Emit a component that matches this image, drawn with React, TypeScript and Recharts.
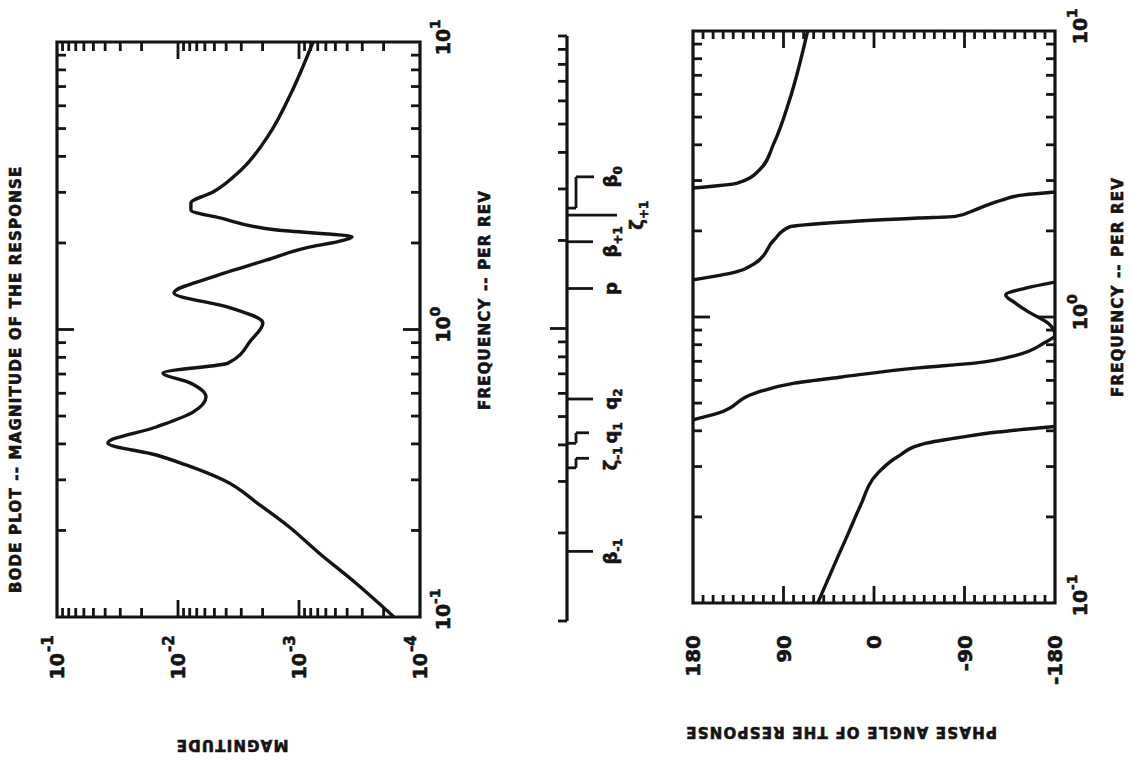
import {
  ComposedChart,
  LineChart,
  Line,
  Scatter,
  XAxis,
  YAxis,
  ReferenceArea,
  ReferenceLine,
} from "recharts";

// magnitude of the response (frequency in per rev)
const magFreq = [0.1, 0.131, 0.167, 0.206, 0.245, 0.3, 0.338, 0.366, 0.403, 0.458, 0.516, 0.582, 0.652, 0.706, 0.764, 0.918, 1.054, 1.197, 1.34, 1.524, 1.746, 1.919, 2.046, 2.099, 2.218, 2.443, 2.606, 2.754, 3.006, 3.589, 4.819, 6.653, 10];
const magValue = [1.64e-4, 3.38e-4, 6.84e-4, 1.21e-3, 2.1e-3, 4.25e-3, 8.59e-3, 1.51e-2, 3.8e-2, 1.51e-2, 7.52e-3, 5.87e-3, 7.96e-3, 1.33e-2, 3.86e-3, 2.49e-3, 1.99e-3, 3.86e-3, 1.08e-2, 5.14e-3, 1.84e-3, 8.91e-4, 4.25e-4, 3.65e-4, 1.52e-3, 4.5e-3, 7.82e-3, 7.82e-3, 5.14e-3, 3.01e-3, 1.74e-3, 1.16e-3, 7.66e-4];

// phase angle (deg), one array pair per branch between the +-180 wraps
const phaseAFreq = [0.1, 0.145, 0.177, 0.217, 0.285, 0.324, 0.362, 0.38, 0.396, 0.414];
const phaseAValue = [56, 36, 25, 14, -4, -23, -52, -87, -123, -180];
const phaseBFreq = [0.437, 0.461, 0.542, 0.587, 0.617, 0.664, 0.69, 0.736, 0.811, 0.865, 0.953, 1.04, 1.122, 1.194, 1.259, 1.324];
const phaseBValue = [180, 155, 118, 79, 32, -44, -100, -142, -169, -180, -173, -154, -140, -131, -150, -180];
const phaseCFreq = [1.349, 1.435, 1.545, 1.858, 2.065, 2.148, 2.218, 2.249, 2.366, 2.564, 2.673, 2.735];
const phaseCValue = [180, 138, 118, 99.5, 84, 31, -44, -81, -100, -127, -149, -180];
const phaseDFreq = [2.825, 2.938, 3.266, 4.055, 5.741, 10];
const phaseDValue = [180, 136, 114, 99.5, 84, 66];

// axis ticks
const freqTicks = [0.1, 0.2, 0.3, 0.4, 0.5, 0.6, 0.7, 0.8, 0.9, 1, 2, 3, 4, 5, 6, 7, 8, 9, 10];
const magTicks = [
  0.0001, 0.0002, 0.0003, 0.0004, 0.0005, 0.0006, 0.0007, 0.0008, 0.0009,
  0.001, 0.002, 0.003, 0.004, 0.005, 0.006, 0.007, 0.008, 0.009,
  0.01, 0.02, 0.03, 0.04, 0.05, 0.06, 0.07, 0.08, 0.09, 0.1,
];
const phaseTicks = [-180, -170, -160, -150, -140, -130, -120, -110, -100, -90, -80, -70, -60, -50, -40, -30, -20, -10, 0, 10, 20, 30, 40, 50, 60, 70, 80, 90, 100, 110, 120, 130, 140, 150, 160, 170, 180];

// frequency markers on the middle scale
const markerSymbols = ["β", "ζ", "q", "q", "p", "β", "ζ", "β"];
const markerSubs = ["-1", "-1", "1", "2", "", "+1", "+1", "0"];
const markerFreqs = [0.173, 0.334, 0.405, 0.574, 1.37, 1.98, 2.44, 2.58];
const markerLabelFreqs = [0.173, 0.36, 0.44, 0.574, 1.37, 1.98, 2.44, 3.3];

const INK = "#141414";
const FONT = "'DejaVu Sans', 'Liberation Sans', Arial, sans-serif";
const CURVE_W = 3.4;
const TICK_W = 2.8;

const magData = magFreq.map((f, i) => ({ f, m: magValue[i] }));
const phaseSeries = [
  [phaseAFreq, phaseAValue],
  [phaseBFreq, phaseBValue],
  [phaseCFreq, phaseCValue],
  [phaseDFreq, phaseDValue],
].map(([fs, ps]) => fs.map((f, i) => ({ f, p: ps[i] })));

const markerLabels = markerSymbols.map((sym, i) => ({
  f: markerLabelFreqs[i],
  d: sym === "ζ" && markerSubs[i] === "+1" ? 76 : 50,
  sym,
  sub: markerSubs[i],
}));

// straight ticks, or a small jog when the label sits off the mark
const markerSegments = markerFreqs.flatMap((fa, i) => {
  const fb = markerLabelFreqs[i];
  if (fa === fb) {
    const depth = markerSymbols[i] === "ζ" ? 50 : 26;
    return [[{ x: fa, y: 0 }, { x: fa, y: depth }]];
  }
  const end = markerSymbols[i] === "β" ? 27 : 22;
  return [
    [{ x: fa, y: 0 }, { x: fa, y: 9 }],
    [{ x: fa, y: 9 }, { x: fb, y: 9 }],
    [{ x: fb, y: 9 }, { x: fb, y: end }],
  ];
});

const isDecade = (v: number) => {
  const l = Math.log10(v);
  return Math.abs(l - Math.round(l)) < 1e-6;
};

// heavy plotter lettering
const textStyle = { fontFamily: FONT, fontWeight: 700, fill: INK, stroke: INK, strokeWidth: 0.6 };
const titleStyle = { ...textStyle, fontSize: 15, letterSpacing: 1.2 };

// frequency axis: inward ticks on bottom and top edge, 10^n under the box
function FreqTick(props: any) {
  const { x, y, payload, plotH, gap } = props;
  const v = payload.value;
  const major = isDecade(v);
  const edge = v < 0.11 || v > 9.9;
  const len = major ? 17 : 9;
  const exp = Math.round(Math.log10(v));
  return (
    <g>
      {!edge && <line x1={x} y1={y} x2={x} y2={y - len} stroke={INK} strokeWidth={TICK_W} />}
      {!edge && <line x1={x} y1={y - plotH} x2={x} y2={y - plotH + len} stroke={INK} strokeWidth={TICK_W} />}
      {major && (
        <text x={x} y={y + gap} textAnchor="middle" fontSize={19} style={textStyle}>
          10
        </text>
      )}
      {major && (
        <text x={x + 13} y={y + gap - 10} fontSize={14} style={textStyle}>
          {exp}
        </text>
      )}
    </g>
  );
}

function MagTick(props: any) {
  const { x, y, payload, plotW } = props;
  const v = payload.value;
  const major = isDecade(v);
  const edge = v < 1.1e-4 || v > 0.099;
  const len = major ? 17 : 9;
  const exp = Math.round(Math.log10(v));
  return (
    <g>
      {!edge && <line x1={x} y1={y} x2={x + len} y2={y} stroke={INK} strokeWidth={TICK_W} />}
      {!edge && <line x1={x + plotW} y1={y} x2={x + plotW - len} y2={y} stroke={INK} strokeWidth={TICK_W} />}
      {major && (
        <text x={x - 36} y={y + 7} textAnchor="end" fontSize={19} style={textStyle}>
          10
        </text>
      )}
      {major && (
        <text x={x - 35} y={y - 4} fontSize={15} style={textStyle}>
          {exp}
        </text>
      )}
    </g>
  );
}

function PhaseTick(props: any) {
  const { x, y, payload, plotW } = props;
  const v = payload.value;
  const major = v % 90 === 0;
  const edge = Math.abs(v) === 180;
  const len = major ? 17 : 8;
  return (
    <g>
      {!edge && <line x1={x} y1={y} x2={x + len} y2={y} stroke={INK} strokeWidth={TICK_W} />}
      {!edge && <line x1={x + plotW} y1={y} x2={x + plotW - len} y2={y} stroke={INK} strokeWidth={TICK_W} />}
      {major && (
        <text x={x - 32} y={y + 7} textAnchor="end" fontSize={20} style={textStyle}>
          {v}
        </text>
      )}
    </g>
  );
}

function StripTick(props: any) {
  const { x, y, payload } = props;
  const len = payload.value === 1 ? 17 : 9;
  return <line x1={x} y1={y} x2={x} y2={y - len} stroke={INK} strokeWidth={TICK_W} />;
}

function MarkerLabel(props: any) {
  const { cx, cy, payload } = props;
  return (
    <text x={cx} y={cy} textAnchor="middle" fontSize={18} style={textStyle}>
      {payload.sym}
      <tspan fontSize={12} dy={5}>
        {payload.sub}
      </tspan>
    </text>
  );
}

export default function App() {
  return (
    <div
      style={{
        position: "absolute",
        left: 0,
        top: 0,
        width: 1131,
        height: 761,
        overflow: "hidden",
        background: "#fff",
      }}
    >
      {/* the page is printed sideways: lay it out upright, then turn it */}
      <div
        style={{
          position: "absolute",
          left: 0,
          top: 0,
          width: 761,
          height: 1131,
          transform: "translateY(761px) rotate(-90deg)",
          transformOrigin: "0 0",
        }}
      >
        <div style={{ position: "absolute", left: 0, top: 0 }}>
          <LineChart width={761} height={500} margin={{ top: 57, right: 42, bottom: 0, left: 0 }}>
            <XAxis
              dataKey="f"
              type="number"
              scale="log"
              domain={[0.1, 10]}
              allowDataOverflow
              ticks={freqTicks}
              interval={0}
              height={80}
              tickSize={0}
              tickMargin={0}
              tickLine={false}
              axisLine={false}
              tick={(p: any) => <FreqTick {...p} plotH={363} gap={30} />}
              label={() => (
                <text x={461} y={490} textAnchor="middle" style={titleStyle}>
                  FREQUENCY -- PER REV
                </text>
              )}
            />
            <YAxis
              type="number"
              scale="log"
              domain={[0.0001, 0.1]}
              allowDataOverflow
              ticks={magTicks}
              interval={0}
              width={144}
              tickSize={0}
              tickMargin={0}
              tickLine={false}
              axisLine={false}
              tick={(p: any) => <MagTick {...p} plotW={575} />}
              label={() => (
                <g>
                  <text x={21} y={232} transform="rotate(-90 21 232)" textAnchor="middle" style={titleStyle}>
                    MAGNITUDE
                  </text>
                  <text x={168} y={21} style={titleStyle}>
                    BODE PLOT -- MAGNITUDE OF THE RESPONSE
                  </text>
                </g>
              )}
            />
            <ReferenceArea x1={0.1} x2={10} y1={0.0001} y2={0.1} fill="none" stroke={INK} strokeWidth={3.2} />
            <Line
              data={magData}
              dataKey="m"
              type="monotone"
              stroke={INK}
              strokeWidth={CURVE_W}
              dot={false}
              isAnimationActive={false}
            />
          </LineChart>
        </div>

        <div style={{ position: "absolute", left: 0, top: 500 }}>
          <ComposedChart width={761} height={155} margin={{ top: 37, right: 36, bottom: 0, left: 140 }}>
            <XAxis
              dataKey="f"
              type="number"
              scale="log"
              domain={[0.1, 10]}
              allowDataOverflow
              orientation="top"
              ticks={freqTicks}
              interval={0}
              height={30}
              tickSize={0}
              tickMargin={0}
              tickLine={false}
              axisLine={{ stroke: INK, strokeWidth: 3.2 }}
              tick={(p: any) => <StripTick {...p} />}
            />
            <YAxis dataKey="d" type="number" domain={[0, 88]} reversed hide allowDataOverflow />
            {markerSegments.map((seg, i) => (
              <ReferenceLine key={i} segment={seg} stroke={INK} strokeWidth={TICK_W} ifOverflow="visible" />
            ))}
            <Scatter data={markerLabels} shape={MarkerLabel} isAnimationActive={false} />
          </ComposedChart>
        </div>

        <div style={{ position: "absolute", left: 0, top: 655 }}>
          <LineChart width={761} height={476} margin={{ top: 38, right: 31, bottom: 26, left: 0 }}>
            <XAxis
              dataKey="f"
              type="number"
              scale="log"
              domain={[0.1, 10]}
              allowDataOverflow
              ticks={freqTicks}
              interval={0}
              height={50}
              tickSize={0}
              tickMargin={0}
              tickLine={false}
              axisLine={false}
              tick={(p: any) => <FreqTick {...p} plotH={362} gap={32} />}
              label={() => (
                <text x={474} y={468} textAnchor="middle" style={titleStyle}>
                  FREQUENCY -- PER REV
                </text>
              )}
            />
            <YAxis
              type="number"
              domain={[-180, 180]}
              allowDataOverflow
              ticks={phaseTicks}
              interval={0}
              width={158}
              tickSize={0}
              tickMargin={0}
              tickLine={false}
              axisLine={false}
              tick={(p: any) => <PhaseTick {...p} plotW={572} />}
              label={() => (
                <text x={34} y={186} transform="rotate(-90 34 186)" textAnchor="middle" style={titleStyle}>
                  PHASE ANGLE OF THE RESPONSE
                </text>
              )}
            />
            <ReferenceArea x1={0.1} x2={10} y1={-180} y2={180} fill="none" stroke={INK} strokeWidth={3.2} />
            {phaseSeries.map((d, i) => (
              <Line
                key={i}
                data={d}
                dataKey="p"
                type="monotone"
                stroke={INK}
                strokeWidth={CURVE_W}
                dot={false}
                isAnimationActive={false}
              />
            ))}
          </LineChart>
        </div>
      </div>
    </div>
  );
}
